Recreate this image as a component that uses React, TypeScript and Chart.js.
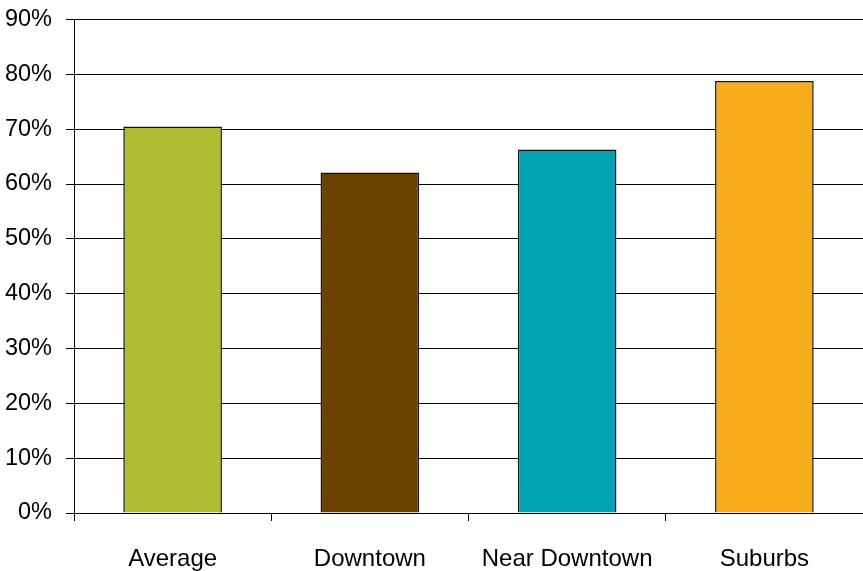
import React, { useEffect, useRef } from "react";
import { Chart, registerables } from "chart.js";

Chart.register(...registerables);

const categories: string[] = ["Average", "Downtown", "Near Downtown", "Suburbs"];
const shares: number[] = [70.5, 62.1, 66.3, 78.8];
const barColors: string[] = ["#AFBD30", "#6B4200", "#00A3B4", "#F9AC1A"];
const yMin = 0;
const yMax = 90;
const yStep = 10;

const FONT = "'Liberation Sans', Arial, sans-serif";

export default function App() {
  const canvasRef = useRef<HTMLCanvasElement | null>(null);

  useEffect(() => {
    const canvas = canvasRef.current;
    if (!canvas) return;
    const chart = new Chart(canvas, {
      type: "bar",
      data: {
        labels: categories,
        datasets: [
          {
            data: shares,
            backgroundColor: barColors,
            borderColor: "#111111",
            borderWidth: 1.5,
            barPercentage: 0.5,
            categoryPercentage: 1,
          },
        ],
      },
      options: {
        responsive: true,
        maintainAspectRatio: false,
        animation: false,
        layout: { padding: 0 },
        plugins: {
          legend: { display: false },
          tooltip: { enabled: false },
        },
        scales: {
          x: {
            afterFit: (scale) => {
              scale.height = 58;
            },
            grid: {
              display: true,
              drawOnChartArea: false,
              drawTicks: true,
              tickLength: 8,
              offset: true,
              color: "#000000",
              lineWidth: 1,
            },
            border: { display: true, color: "#000000", width: 1 },
            ticks: {
              color: "#000000",
              padding: 24,
              font: { family: FONT, size: 24 },
            },
          },
          y: {
            min: yMin,
            max: yMax,
            afterFit: (scale: any) => {
              scale.width = 74;
              scale.paddingTop = 19.5;
              scale.paddingBottom = 0;
            },
            grid: {
              color: "#000000",
              lineWidth: 1,
              tickLength: 8,
            },
            border: { display: true, color: "#000000", width: 1 },
            ticks: {
              stepSize: yStep,
              color: "#000000",
              padding: 14,
              font: { family: FONT, size: 23.5 },
              callback: (v) => `${v}%`,
            },
          },
        },
      },
    });
    return () => chart.destroy();
  }, []);

  return (
    <div style={{ position: "fixed", left: 0, top: 0, width: 863, height: 571, background: "#ffffff" }}>
      <canvas ref={canvasRef} />
    </div>
  );
}
